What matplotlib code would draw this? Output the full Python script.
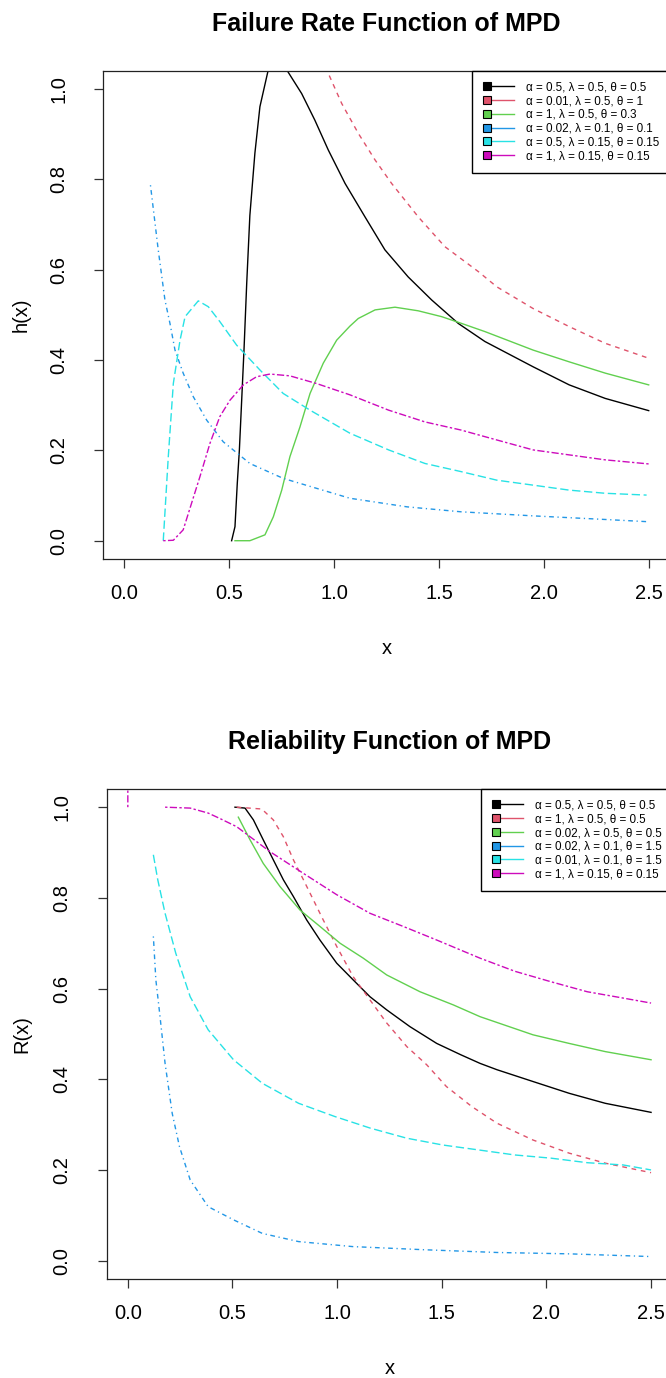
import numpy as np
import matplotlib
matplotlib.use("Agg")
import matplotlib.pyplot as plt
from matplotlib.lines import Line2D
from matplotlib.legend_handler import HandlerBase

plt.rcParams['font.family'] = ['Liberation Sans', 'DejaVu Sans']

# R palette colours
cols = ["#000000", "#DF536B", "#61D04F", "#2297E6", "#28E2E5", "#CD0BBC"]

# R line types (scaled for a 1pt line)
solid = "-"
dashed = (0, (3.4, 3.4))
dotdash = (0, (0.9, 2.6, 3.4, 2.6))
longdash = (0, (6.0, 2.6))
twodash = (0, (1.7, 1.7, 5.2, 1.7))

# ---- failure rate h(x) ----
h_lab = ["α = 0.5, λ = 0.5, θ = 0.5",
         "α = 0.01, λ = 0.5, θ = 1",
         "α = 1, λ = 0.5, θ = 0.3",
         "α = 0.02, λ = 0.1, θ = 0.1",
         "α = 0.5, λ = 0.15, θ = 0.15",
         "α = 1, λ = 0.15, θ = 0.15"]

h1_x = [0.511, 0.527, 0.538, 0.548, 0.559, 0.570, 0.583, 0.598, 0.622, 0.646, 0.686, 0.73, 0.773,
        0.845, 0.908, 0.972, 1.052, 1.147, 1.242, 1.353, 1.465, 1.592, 1.719, 1.949, 2.121, 2.293, 2.5]
h1_y = [0.0, 0.031, 0.127, 0.201, 0.311, 0.422, 0.570, 0.720, 0.858, 0.961, 1.043, 1.08, 1.043,
        0.990, 0.931, 0.865, 0.791, 0.717, 0.644, 0.584, 0.533, 0.481, 0.441, 0.385, 0.345, 0.315, 0.288]

h2_x = [0.90, 0.94, 0.964, 1.036, 1.115, 1.195, 1.274, 1.401, 1.528, 1.687, 1.776, 1.949, 2.121,
        2.293, 2.5]
h2_y = [1.15, 1.08, 1.043, 0.968, 0.902, 0.843, 0.791, 0.717, 0.651, 0.596, 0.562, 0.514, 0.474,
        0.437, 0.404]

h3_x = [0.527, 0.598, 0.670, 0.710, 0.750, 0.789, 0.837, 0.885, 0.948, 1.012, 1.075, 1.115, 1.195,
        1.290, 1.401, 1.513, 1.608, 1.719, 1.949, 2.121, 2.293, 2.5]
h3_y = [0.0, 0.0, 0.013, 0.053, 0.112, 0.186, 0.252, 0.326, 0.393, 0.444, 0.475, 0.492, 0.511,
        0.517, 0.509, 0.496, 0.481, 0.463, 0.422, 0.396, 0.371, 0.345]

h4_x = [0.124, 0.161, 0.193, 0.217, 0.241, 0.280, 0.328, 0.392, 0.471, 0.598, 0.757, 0.916, 1.075,
        1.347, 1.605, 1.949, 2.293, 2.5]
h4_y = [0.787, 0.644, 0.533, 0.481, 0.422, 0.371, 0.319, 0.267, 0.219, 0.171, 0.138, 0.116, 0.094,
        0.075, 0.064, 0.055, 0.047, 0.042]

h5_x = [0.185, 0.209, 0.233, 0.265, 0.289, 0.352, 0.400, 0.455, 0.535, 0.646, 0.757, 0.885, 1.075,
        1.26, 1.433, 1.605, 1.776, 1.949, 2.121, 2.293, 2.49]
h5_y = [0.0, 0.186, 0.348, 0.444, 0.496, 0.531, 0.518, 0.485, 0.433, 0.378, 0.326, 0.289, 0.238,
        0.201, 0.171, 0.153, 0.134, 0.123, 0.112, 0.105, 0.101]

h6_x = [0.185, 0.233, 0.280, 0.320, 0.360, 0.408, 0.455, 0.503, 0.567, 0.630, 0.694, 0.789, 0.916,
        1.075, 1.26, 1.433, 1.605, 1.776, 1.949, 2.121, 2.293, 2.5]
h6_y = [0.0, 0.001, 0.024, 0.083, 0.142, 0.216, 0.275, 0.311, 0.345, 0.363, 0.369, 0.365, 0.348,
        0.323, 0.289, 0.263, 0.245, 0.223, 0.201, 0.190, 0.179, 0.170]

# ---- reliability R(x) ----
r_lab = ["α = 0.5, λ = 0.5, θ = 0.5",
         "α = 1, λ = 0.5, θ = 0.5",
         "α = 0.02, λ = 0.5, θ = 0.5",
         "α = 0.02, λ = 0.1, θ = 1.5",
         "α = 0.01, λ = 0.1, θ = 1.5",
         "α = 1, λ = 0.15, θ = 0.15"]

r1_x = [0.512, 0.560, 0.600, 0.647, 0.695, 0.743, 0.791, 0.855, 0.918, 0.998, 1.077, 1.157, 1.237,
        1.348, 1.476, 1.591, 1.683, 1.764, 1.936, 2.109, 2.281, 2.5]
r1_y = [1.0, 0.998, 0.972, 0.928, 0.884, 0.840, 0.803, 0.751, 0.707, 0.656, 0.619, 0.582, 0.553,
        0.516, 0.479, 0.454, 0.435, 0.421, 0.395, 0.369, 0.347, 0.327]

r2_x = [0.52, 0.640, 0.695, 0.743, 0.791, 0.839, 0.886, 0.934, 0.998, 1.077, 1.157, 1.237, 1.333,
        1.428, 1.522, 1.643, 1.764, 1.936, 2.109, 2.281, 2.5]
r2_y = [1.0, 0.996, 0.972, 0.935, 0.884, 0.840, 0.796, 0.751, 0.693, 0.626, 0.575, 0.524, 0.472,
        0.432, 0.384, 0.340, 0.303, 0.266, 0.237, 0.215, 0.194]

r3_x = [0.528, 0.584, 0.647, 0.727, 0.823, 0.918, 1.014, 1.125, 1.237, 1.396, 1.555, 1.683, 1.936,
        2.109, 2.281, 2.5]
r3_y = [0.978, 0.928, 0.876, 0.825, 0.773, 0.737, 0.700, 0.667, 0.630, 0.593, 0.564, 0.538, 0.498,
        0.479, 0.461, 0.443]

r4_x = [0.122, 0.134, 0.152, 0.178, 0.212, 0.247, 0.298, 0.384, 0.505, 0.643, 0.816, 1.074, 1.419,
        1.764, 2.109, 2.5]
r4_y = [0.715, 0.619, 0.546, 0.435, 0.325, 0.251, 0.178, 0.119, 0.090, 0.060, 0.042, 0.031, 0.024,
        0.018, 0.015, 0.009]

r5_x = [0.122, 0.143, 0.178, 0.229, 0.298, 0.384, 0.505, 0.643, 0.816, 0.988, 1.16, 1.333, 1.505,
        1.678, 1.85, 2.022, 2.195, 2.367, 2.5]
r5_y = [0.895, 0.840, 0.766, 0.678, 0.582, 0.509, 0.443, 0.391, 0.347, 0.318, 0.292, 0.270, 0.255,
        0.244, 0.233, 0.226, 0.216, 0.211, 0.200]

r6_x = [0.0, 0.0, np.nan, 0.178, 0.298, 0.384, 0.44, 0.520, 0.679, 0.839, 0.998, 1.157, 1.316,
        1.476, 1.683, 1.85, 2.022, 2.195, 2.367, 2.5]
r6_y = [1.0, 1.2, np.nan, 1.0, 0.998, 0.987, 0.975, 0.957, 0.902, 0.854, 0.807, 0.766, 0.737,
        0.707, 0.667, 0.638, 0.615, 0.593, 0.579, 0.568]

x_ticks = [0.0, 0.5, 1.0, 1.5, 2.0, 2.5]
y_ticks = [0.0, 0.2, 0.4, 0.6, 0.8, 1.0]


class BoxLine(HandlerBase):
    # R style legend key: filled square with a line on its right
    def create_artists(self, legend, orig_handle, xdescent, ydescent, width, height, fontsize, trans):
        y = height / 2 - ydescent
        x0 = -xdescent
        c = orig_handle.get_color()
        ln = Line2D([x0 + 0.13 * width, x0 + width], [y, y], color=c, lw=1.0, transform=trans)
        sq = Line2D([x0 + 0.13 * width], [y], marker='s', ms=6, mfc=c, mec='black', mew=0.8,
                    ls='none', transform=trans)
        return [ln, sq]


def panel(ax, xs, ys, styles, labels, title, ylab):
    for x, y, c, s in zip(xs, ys, cols, styles):
        ax.plot(x, y, color=c, ls=s, lw=1.0)
    ax.set_xlim(-0.1, 2.6)
    ax.set_ylim(-0.04, 1.04)
    ax.set_xticks(x_ticks)
    ax.set_xticklabels([f"{v:.1f}" for v in x_ticks])
    ax.set_yticks(y_ticks)
    ax.set_yticklabels([f"{v:.1f}" for v in y_ticks], rotation=90, va='center')
    ax.tick_params(axis='both', direction='out', length=6.5, width=0.9, labelsize=14.5, color='#333333')
    ax.tick_params(axis='x', pad=12)
    ax.tick_params(axis='y', pad=19)
    for sp in ax.spines.values():
        sp.set_linewidth(0.9)
        sp.set_color('#222222')
    ax.set_title(title, fontsize=18, fontweight='bold', pad=29)
    ax.set_xlabel("x", fontsize=14.5)
    ax.set_ylabel(ylab, fontsize=14.5)
    ax.xaxis.set_label_coords(0.5, -0.164)
    handles = [Line2D([], [], color=c) for c in cols]
    leg = ax.legend(handles, labels, handler_map={Line2D: BoxLine()}, loc='upper right',
                    borderaxespad=0, fontsize=8.4, handlelength=2.7, handletextpad=1.0,
                    borderpad=0.9, labelspacing=0.15, fancybox=False, framealpha=1,
                    edgecolor='black')
    leg.get_frame().set_linewidth(1.0)


fig = plt.figure(figsize=(6.66, 13.78), dpi=100)
ax1 = fig.add_axes([0.1554, 0.5945, 0.8501, 0.3540])
ax2 = fig.add_axes([0.1605, 0.0720, 0.8485, 0.3554])

panel(ax1, [h1_x, h2_x, h3_x, h4_x, h5_x, h6_x], [h1_y, h2_y, h3_y, h4_y, h5_y, h6_y],
      [solid, dashed, solid, dotdash, longdash, twodash], h_lab,
      "Failure Rate Function of MPD", "h(x)")
ax1.yaxis.set_label_coords(-0.128, 0.5)

panel(ax2, [r1_x, r2_x, r3_x, r4_x, r5_x, r6_x], [r1_y, r2_y, r3_y, r4_y, r5_y, r6_y],
      [solid, dashed, solid, dotdash, longdash, twodash], r_lab,
      "Reliability Function of MPD", "R(x)")
ax2.yaxis.set_label_coords(-0.134, 0.5)

fig.savefig("out.png", dpi=100)
